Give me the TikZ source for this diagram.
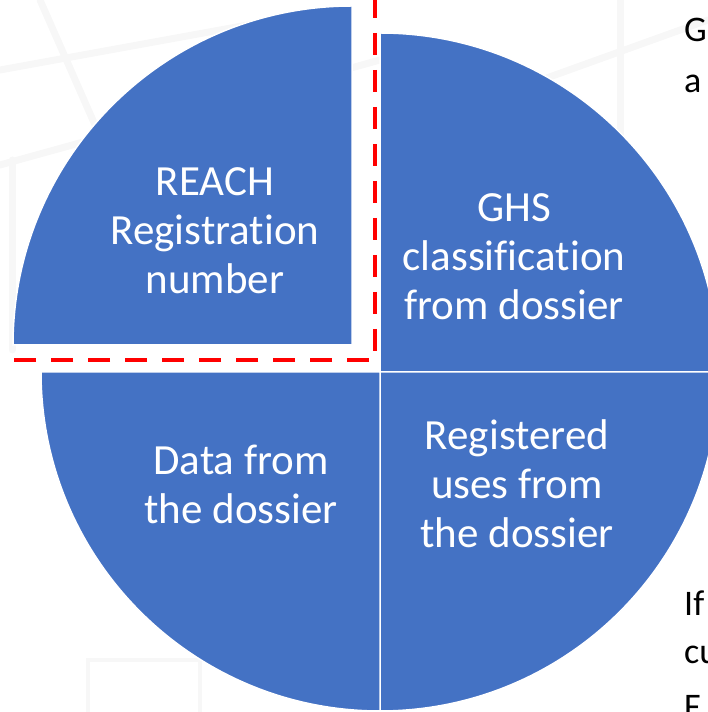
\documentclass[tikz,border=0pt]{standalone}
\usepackage{fontspec}
\setmainfont{Carlito}[Ligatures=NoCommon]
\usepackage{tikz}

\definecolor{sliceblue}{HTML}{4472C4}
\definecolor{markred}{HTML}{FF0000}

\begin{document}
\begin{tikzpicture}[x=1pt, y=1pt,
	slice/.style={fill=sliceblue, draw=white, line width=1.5pt},
	inside/.style={text=white, align=center, inner sep=0pt, font=\fontsize{43}{49}\selectfont},
	outside/.style={text=black, anchor=base west, inner sep=0pt, font=\fontsize{36}{42}\selectfont},
	frame/.style={draw=markred, line width=4.5pt, dash pattern=on 22pt off 15pt},
	girder/.style={draw=black!3, line width=7pt, line cap=round}]
		\useasboundingbox (0,0) rectangle (708,712);

		% faint steelwork in the back
		\draw[girder] (0,642) -- (330,702);
		\draw[girder] (0,547) -- (380,652);
		\draw[girder] (12,552) -- (12,362);
		\draw[girder] (40,712) -- (150,462);
		\draw[girder] (620,712) -- (620,572);
		\draw[girder] (430,592) -- (708,692);
		\draw[draw=black!3, line width=4pt] (88,0) -- (88,52) -- (200,52) -- (200,0);

		\coordinate (c) at (380,340);
		\coordinate (e) at (352,367);

		% the four quarters, top left one pulled out
		\draw[slice] (c) -- ++(339,0) arc[start angle=0, end angle=90, radius=339pt] -- cycle;
		\draw[slice] (c) -- ++(0,-339) arc[start angle=270, end angle=360, radius=339pt] -- cycle;
		\draw[slice] (c) -- ++(-339,0) arc[start angle=180, end angle=270, radius=339pt] -- cycle;
		\draw[slice] (e) -- ++(0,339) arc[start angle=90, end angle=180, radius=339pt] -- cycle;

		\coordinate (f1) at (375,716);
		\coordinate (f2) at (375,352);
		\coordinate (f3) at (-4,352);
		\draw[frame] (f1) -- (f2) -- (f3);

		\node[inside] (reach) at (215,481) {REACH\\Registration\\number};
		\node[inside] (ghs) at (514,455) {GHS\\classification\\from dossier};
		\node[inside] (data) at (241,228) {Data from\\the dossier};
		\node[inside] (uses) at (517,228) {Registered\\uses from\\the dossier};

		\node[outside] (t1) at (684,670) {G};
		\node[outside] (t2) at (684,619) {a};
		\node[outside] (t3) at (684,96) {If};
		\node[outside] (t4) at (684,48) {cu};
		\node[outside] (t5) at (684,-6) {F};
	\end{tikzpicture}
\end{document}
